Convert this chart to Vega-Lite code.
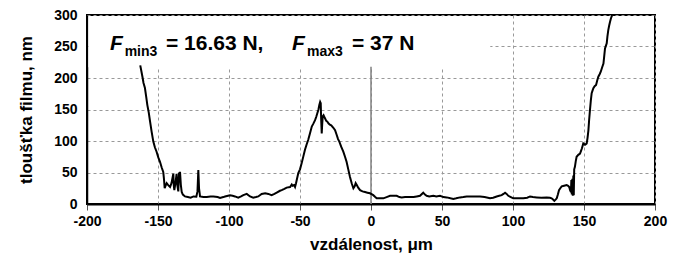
{
  "$schema": "https://vega.github.io/schema/vega-lite/v6.json",
  "autosize": {"type": "none"},
  "padding": {"left": 87, "top": 15, "right": 20, "bottom": 64},
  "width": 568,
  "height": 189,
  "background": "white",
  "datasets": {
    "one": [{}],
    "curve": [
      {"x": -162.5, "y": 220}, {"x": -161.8, "y": 212}, {"x": -160.8, "y": 200}, {"x": -160.2, "y": 192},
      {"x": -159.2, "y": 184}, {"x": -158.3, "y": 170}, {"x": -157.5, "y": 157}, {"x": -156.5, "y": 145},
      {"x": -155.6, "y": 131}, {"x": -154.5, "y": 115}, {"x": -153.3, "y": 99}, {"x": -152.2, "y": 90},
      {"x": -151, "y": 83}, {"x": -149.8, "y": 74}, {"x": -148.6, "y": 67}, {"x": -147.4, "y": 58},
      {"x": -146.3, "y": 51}, {"x": -145.8, "y": 40}, {"x": -145.3, "y": 25}, {"x": -144.5, "y": 30},
      {"x": -143.9, "y": 33}, {"x": -142.8, "y": 30}, {"x": -141.5, "y": 27}, {"x": -140.5, "y": 33},
      {"x": -139.2, "y": 48}, {"x": -138.9, "y": 30}, {"x": -138.5, "y": 22}, {"x": -137.6, "y": 35},
      {"x": -136.9, "y": 48}, {"x": -136.4, "y": 30}, {"x": -135.7, "y": 20}, {"x": -135.2, "y": 50},
      {"x": -134.8, "y": 35}, {"x": -134.5, "y": 51}, {"x": -133.9, "y": 30}, {"x": -133.3, "y": 19},
      {"x": -132.5, "y": 15}, {"x": -131, "y": 12}, {"x": -129, "y": 11}, {"x": -127, "y": 10},
      {"x": -125, "y": 12}, {"x": -123, "y": 11.5}, {"x": -122.2, "y": 20}, {"x": -121.6, "y": 54},
      {"x": -121.1, "y": 25}, {"x": -120.4, "y": 12}, {"x": -118, "y": 11}, {"x": -115.7, "y": 11},
      {"x": -113, "y": 12}, {"x": -111, "y": 12}, {"x": -108, "y": 11}, {"x": -106.3, "y": 9.5},
      {"x": -104, "y": 11}, {"x": -102.8, "y": 12}, {"x": -99.3, "y": 14}, {"x": -97.5, "y": 13},
      {"x": -95.8, "y": 12}, {"x": -93.5, "y": 10}, {"x": -91.5, "y": 12}, {"x": -89.9, "y": 14},
      {"x": -87.5, "y": 16}, {"x": -85.2, "y": 12}, {"x": -82.9, "y": 10}, {"x": -81, "y": 11},
      {"x": -79.4, "y": 12}, {"x": -77, "y": 16}, {"x": -74.5, "y": 17}, {"x": -72.3, "y": 16},
      {"x": -70, "y": 14}, {"x": -68, "y": 16}, {"x": -66.4, "y": 18}, {"x": -64.1, "y": 21},
      {"x": -62.9, "y": 22}, {"x": -61, "y": 24}, {"x": -59.4, "y": 26}, {"x": -57, "y": 27},
      {"x": -55.8, "y": 31}, {"x": -55.2, "y": 29}, {"x": -54.2, "y": 30}, {"x": -53.5, "y": 27},
      {"x": -52.8, "y": 33}, {"x": -52.3, "y": 38}, {"x": -51.2, "y": 49}, {"x": -50, "y": 55},
      {"x": -48.8, "y": 65}, {"x": -47.6, "y": 76}, {"x": -46.5, "y": 86}, {"x": -45.4, "y": 94},
      {"x": -44.2, "y": 102}, {"x": -43, "y": 112}, {"x": -41.7, "y": 123}, {"x": -40.5, "y": 128},
      {"x": -39.4, "y": 133}, {"x": -38.6, "y": 138}, {"x": -37.8, "y": 144}, {"x": -37, "y": 150},
      {"x": -36.4, "y": 157}, {"x": -35.8, "y": 162}, {"x": -35.4, "y": 160}, {"x": -35.1, "y": 135},
      {"x": -34.7, "y": 112}, {"x": -34.4, "y": 125}, {"x": -34, "y": 139}, {"x": -33.4, "y": 141},
      {"x": -32.4, "y": 136}, {"x": -31.5, "y": 132}, {"x": -30.5, "y": 130}, {"x": -30, "y": 128},
      {"x": -29, "y": 126}, {"x": -28, "y": 125}, {"x": -26.5, "y": 121}, {"x": -25.3, "y": 117},
      {"x": -24.2, "y": 110}, {"x": -23.2, "y": 103}, {"x": -22.3, "y": 99}, {"x": -21, "y": 91},
      {"x": -19.5, "y": 83}, {"x": -18.3, "y": 75}, {"x": -17.2, "y": 67}, {"x": -16, "y": 55},
      {"x": -14.8, "y": 43}, {"x": -13.6, "y": 33}, {"x": -12.4, "y": 25}, {"x": -11.5, "y": 28},
      {"x": -10.8, "y": 33}, {"x": -10, "y": 30}, {"x": -9, "y": 26}, {"x": -7.7, "y": 22},
      {"x": -6, "y": 20}, {"x": -4.2, "y": 19}, {"x": -2.5, "y": 18}, {"x": -0.7, "y": 17},
      {"x": 1.6, "y": 14}, {"x": 3, "y": 11}, {"x": 4, "y": 9}, {"x": 6, "y": 9},
      {"x": 8.7, "y": 9}, {"x": 11, "y": 11}, {"x": 13.4, "y": 13}, {"x": 16, "y": 13},
      {"x": 18.1, "y": 13}, {"x": 20, "y": 11}, {"x": 21.6, "y": 10.5}, {"x": 24, "y": 11},
      {"x": 27.5, "y": 11}, {"x": 30, "y": 11}, {"x": 32.2, "y": 12}, {"x": 34.5, "y": 13},
      {"x": 36.8, "y": 18}, {"x": 38, "y": 15}, {"x": 39.2, "y": 13}, {"x": 41, "y": 12},
      {"x": 43.9, "y": 13}, {"x": 46, "y": 12}, {"x": 48.6, "y": 13}, {"x": 51, "y": 11},
      {"x": 53.3, "y": 10.5}, {"x": 56, "y": 9}, {"x": 58, "y": 8}, {"x": 60, "y": 9},
      {"x": 62.7, "y": 10.5}, {"x": 65, "y": 11}, {"x": 67.4, "y": 12}, {"x": 69.7, "y": 12},
      {"x": 73, "y": 12}, {"x": 76.8, "y": 12}, {"x": 80, "y": 11}, {"x": 83.8, "y": 9},
      {"x": 86, "y": 10}, {"x": 88.5, "y": 12}, {"x": 90.3, "y": 13}, {"x": 92, "y": 14},
      {"x": 93.3, "y": 16}, {"x": 94.4, "y": 18}, {"x": 95.5, "y": 16}, {"x": 96.7, "y": 13},
      {"x": 98.5, "y": 11}, {"x": 100.2, "y": 9}, {"x": 103.5, "y": 9}, {"x": 107.3, "y": 9},
      {"x": 110, "y": 10}, {"x": 112, "y": 12}, {"x": 114, "y": 11}, {"x": 116.7, "y": 10.5},
      {"x": 120, "y": 10}, {"x": 123.7, "y": 10.5}, {"x": 126, "y": 10}, {"x": 127.2, "y": 9},
      {"x": 128.2, "y": 7}, {"x": 129.1, "y": 5}, {"x": 130, "y": 7}, {"x": 130.8, "y": 9},
      {"x": 131.6, "y": 15}, {"x": 132.4, "y": 22}, {"x": 133.3, "y": 25}, {"x": 134.3, "y": 28},
      {"x": 136, "y": 29}, {"x": 137.8, "y": 30}, {"x": 138.8, "y": 29}, {"x": 139.6, "y": 27},
      {"x": 140.2, "y": 22}, {"x": 140.8, "y": 19}, {"x": 141.1, "y": 38}, {"x": 141.4, "y": 15},
      {"x": 141.8, "y": 40}, {"x": 142.1, "y": 13}, {"x": 142.5, "y": 45}, {"x": 142.8, "y": 14},
      {"x": 143.1, "y": 55}, {"x": 143.6, "y": 59}, {"x": 144.2, "y": 68}, {"x": 144.8, "y": 75},
      {"x": 146, "y": 78}, {"x": 147.2, "y": 80}, {"x": 148.5, "y": 88}, {"x": 149.5, "y": 96},
      {"x": 150.1, "y": 95}, {"x": 150.7, "y": 94}, {"x": 151.3, "y": 95}, {"x": 151.9, "y": 96},
      {"x": 152.5, "y": 105}, {"x": 153.1, "y": 117}, {"x": 153.6, "y": 133}, {"x": 154.2, "y": 149},
      {"x": 154.8, "y": 164}, {"x": 155.4, "y": 176}, {"x": 156, "y": 180}, {"x": 156.6, "y": 184},
      {"x": 157.5, "y": 187}, {"x": 158.5, "y": 189}, {"x": 159.3, "y": 196}, {"x": 160.1, "y": 202},
      {"x": 161, "y": 206}, {"x": 161.8, "y": 210}, {"x": 162.8, "y": 217}, {"x": 163.7, "y": 223},
      {"x": 164.3, "y": 236}, {"x": 164.8, "y": 247}, {"x": 165.4, "y": 251}, {"x": 166, "y": 255},
      {"x": 166.5, "y": 266}, {"x": 167.1, "y": 276}, {"x": 167.7, "y": 283}, {"x": 168.3, "y": 289},
      {"x": 168.9, "y": 294}, {"x": 169.5, "y": 298}, {"x": 169.9, "y": 300}
    ]
  },
  "layer": [
    {
      "data": {"name": "curve"},
      "mark": {"type": "line", "color": "#000", "strokeWidth": 2, "clip": true, "opacity": 0},
      "encoding": {
        "x": {"field": "x", "type": "quantitative", "scale": {"domain": [-200, 200], "nice": false},
              "axis": {"grid": true}, "title": "vzdálenost, μm"},
        "y": {"field": "y", "type": "quantitative", "scale": {"domain": [0, 300], "nice": false},
              "axis": {"grid": true}, "title": "tloušťka filmu, nm"}
      }
    },
    {
      "data": {"name": "one"},
      "mark": {"type": "rect", "fill": "white", "stroke": null},
      "encoding": {
        "x": {"datum": -199, "type": "quantitative"},
        "x2": {"datum": 84},
        "y": {"datum": 217, "type": "quantitative"},
        "y2": {"datum": 298}
      }
    },
    {
      "data": {"name": "one"},
      "mark": {"type": "rule", "color": "#808080", "strokeWidth": 1.5},
      "encoding": {
        "x": {"datum": 0, "type": "quantitative"},
        "y": {"datum": 0, "type": "quantitative"},
        "y2": {"datum": 218}
      }
    },
    {
      "data": {"name": "curve"},
      "mark": {"type": "line", "color": "#000", "strokeWidth": 2, "clip": true},
      "encoding": {
        "x": {"field": "x", "type": "quantitative"},
        "y": {"field": "y", "type": "quantitative"}
      }
    },
    {
      "data": {"name": "one"},
      "mark": {"type": "text", "text": "F", "font": "Liberation Sans", "fontSize": 21, "fontWeight": "bold", "fontStyle": "italic", "align": "left", "baseline": "alphabetic", "color": "#000"},
      "encoding": {
        "x": {"datum": -183.8, "type": "quantitative"},
        "y": {"datum": 245.2, "type": "quantitative"}
      }
    },
    {
      "data": {"name": "one"},
      "mark": {"type": "text", "text": "min3", "font": "Liberation Sans", "fontSize": 14, "fontWeight": "bold", "align": "left", "baseline": "alphabetic", "color": "#000"},
      "encoding": {
        "x": {"datum": -173.5, "type": "quantitative"},
        "y": {"datum": 235.7, "type": "quantitative"}
      }
    },
    {
      "data": {"name": "one"},
      "mark": {"type": "text", "text": "= 16.63 N,", "font": "Liberation Sans", "fontSize": 21, "fontWeight": "bold", "align": "left", "baseline": "alphabetic", "color": "#000"},
      "encoding": {
        "x": {"datum": -144.4, "type": "quantitative"},
        "y": {"datum": 245.2, "type": "quantitative"}
      }
    },
    {
      "data": {"name": "one"},
      "mark": {"type": "text", "text": "F", "font": "Liberation Sans", "fontSize": 21, "fontWeight": "bold", "fontStyle": "italic", "align": "left", "baseline": "alphabetic", "color": "#000"},
      "encoding": {
        "x": {"datum": -55.6, "type": "quantitative"},
        "y": {"datum": 245.2, "type": "quantitative"}
      }
    },
    {
      "data": {"name": "one"},
      "mark": {"type": "text", "text": "max3", "font": "Liberation Sans", "fontSize": 14, "fontWeight": "bold", "align": "left", "baseline": "alphabetic", "color": "#000"},
      "encoding": {
        "x": {"datum": -45, "type": "quantitative"},
        "y": {"datum": 235.7, "type": "quantitative"}
      }
    },
    {
      "data": {"name": "one"},
      "mark": {"type": "text", "text": "= 37 N", "font": "Liberation Sans", "fontSize": 21, "fontWeight": "bold", "align": "left", "baseline": "alphabetic", "color": "#000"},
      "encoding": {
        "x": {"datum": -13.4, "type": "quantitative"},
        "y": {"datum": 245.2, "type": "quantitative"}
      }
    }
  ],
  "config": {
    "view": {"stroke": "#000", "strokeWidth": 2},
    "axis": {
      "labelFont": "Liberation Sans",
      "labelFontWeight": "bold",
      "labelFontSize": 14,
      "labelColor": "#000",
      "labelExpr": "toString(datum.value)",
      "titleFont": "Liberation Sans",
      "titleFontWeight": "bold",
      "titleColor": "#000",
      "gridColor": "#999",
      "gridDash": [3, 3],
      "gridWidth": 1,
      "domainColor": "#000",
      "labelFlush": false,
      "labelOverlap": false
    },
    "axisX": {
      "tickCount": 8,
      "tickSize": 6,
      "tickColor": "#555",
      "domainWidth": 2,
      "labelPadding": 4,
      "titleFontSize": 17,
      "titlePadding": 8
    },
    "axisY": {
      "tickCount": 7,
      "ticks": false,
      "domainWidth": 1.5,
      "labelPadding": 10,
      "titleFontSize": 17,
      "titlePadding": 18
    }
  }
}
